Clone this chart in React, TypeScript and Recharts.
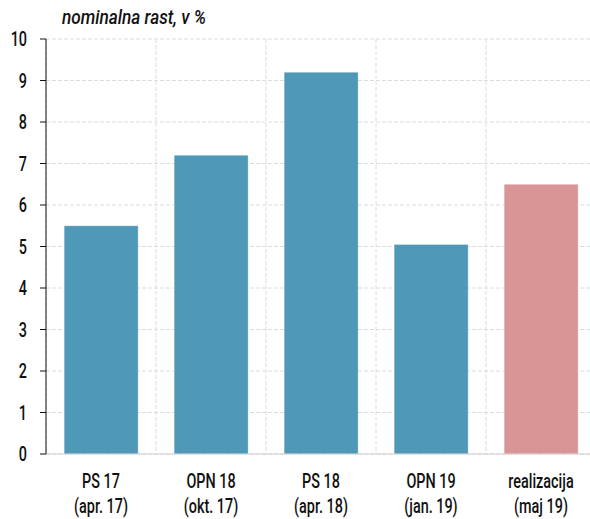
import React from "react";
import { BarChart, Bar, XAxis, YAxis, CartesianGrid, Cell } from "recharts";

const labelTop = ["PS 17", "OPN 18", "PS 18", "OPN 19", "realizacija"];
const labelBottom = ["(apr. 17)", "(okt. 17)", "(apr. 18)", "(jan. 19)", "(maj 19)"];
const growth = [5.5, 7.2, 9.2, 5.05, 6.5];
const barColors = ["#4f98b8", "#4f98b8", "#4f98b8", "#4f98b8", "#d99595"];
const yTicks = [0, 1, 2, 3, 4, 5, 6, 7, 8, 9, 10];

const FONT = "Roboto, 'Liberation Sans', sans-serif";
const SQUEEZE = 0.72;

const data = labelTop.map((top, i) => ({
  top,
  bottom: labelBottom[i],
  value: growth[i],
}));

const CategoryTick = (props: any) => {
  const { x, y, index } = props;
  return (
    <g transform={`translate(${x},${y}) scale(${SQUEEZE},1)`}>
      <text x={0} y={26} textAnchor="middle" fontSize={20} fontWeight={500} fill="#111" fontFamily={FONT}>
        {labelTop[index]}
      </text>
      <text x={0} y={51} textAnchor="middle" fontSize={20} fontWeight={500} fill="#111" fontFamily={FONT}>
        {labelBottom[index]}
      </text>
    </g>
  );
};

const ValueTick = (props: any) => {
  const { x, y, payload } = props;
  return (
    <g transform={`translate(${x},${y}) scale(${SQUEEZE},1)`}>
      <text x={0} y={0} dy="0.355em" textAnchor="end" fontSize={20} fontWeight={500} fill="#111" fontFamily={FONT}>
        {payload.value}
      </text>
    </g>
  );
};

// grid lines sit between categories, not under them
const bandEdges = ({ offset }: any) => {
  const step = offset.width / data.length;
  return data.map((_, i) => offset.left + step * i);
};

export default function App() {
  return (
    <div
      style={{
        position: "absolute",
        left: 0,
        top: 0,
        width: 590,
        height: 519,
        overflow: "hidden",
        background: "#fff",
      }}
    >
      <div
        style={{
          position: "absolute",
          left: 62,
          top: 5,
          fontFamily: FONT,
          fontStyle: "italic",
          fontWeight: 500,
          fontSize: 20,
          color: "#111",
          transform: "scale(0.86,1)",
          transformOrigin: "0 0",
          whiteSpace: "nowrap",
        }}
      >
        nominalna rast, v %
      </div>
      <BarChart
        width={600}
        height={519}
        data={data}
        margin={{ top: 39, right: 4, left: 0, bottom: 0 }}
        barCategoryGap="16.5%"
      >
        <CartesianGrid
          stroke="#dcdcdc"
          strokeDasharray="4 2"
          verticalCoordinatesGenerator={bandEdges}
        />
        <XAxis
          dataKey="top"
          height={65}
          tickLine={false}
          axisLine={{ stroke: "#cfcfcf" }}
          tick={<CategoryTick />}
          interval={0}
        />
        <YAxis
          width={46}
          domain={[0, 10]}
          ticks={yTicks}
          interval={0}
          tickSize={6}
          tickMargin={13}
          axisLine={{ stroke: "#111" }}
          tickLine={{ stroke: "#111" }}
          tick={<ValueTick />}
        />
        <Bar dataKey="value" isAnimationActive={false} stroke="#ffffff" strokeOpacity={0.35}>
          {data.map((d, i) => (
            <Cell key={d.top} fill={barColors[i]} />
          ))}
        </Bar>
      </BarChart>
    </div>
  );
}
